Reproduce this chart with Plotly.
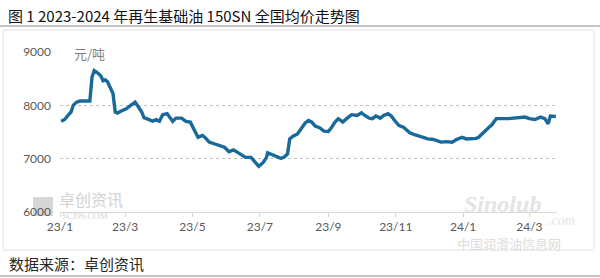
import plotly.graph_objects as go

dates = ["2023-01-02","2023-01-05","2023-01-09","2023-01-11","2023-01-13","2023-01-16","2023-01-19","2023-01-28",
"2023-01-30","2023-02-01","2023-02-04","2023-02-07","2023-02-09","2023-02-11","2023-02-13","2023-02-16","2023-02-18",
"2023-02-20","2023-02-22","2023-02-25","2023-03-02","2023-03-06","2023-03-10","2023-03-12","2023-03-16","2023-03-18",
"2023-03-22","2023-03-26","2023-03-29","2023-04-01","2023-04-04","2023-04-08","2023-04-11","2023-04-13","2023-04-16",
"2023-04-21","2023-04-25","2023-04-29","2023-05-02","2023-05-06","2023-05-10","2023-05-13","2023-05-16","2023-05-21",
"2023-05-26","2023-05-30","2023-06-03","2023-06-07","2023-06-13","2023-06-18","2023-06-23","2023-06-28","2023-06-30",
"2023-07-04","2023-07-07","2023-07-08","2023-07-12","2023-07-16","2023-07-20","2023-07-23","2023-07-26","2023-07-28",
"2023-07-31","2023-08-04","2023-08-08","2023-08-11","2023-08-14","2023-08-17","2023-08-20","2023-08-24","2023-08-28",
"2023-09-01","2023-09-04","2023-09-07","2023-09-10","2023-09-14","2023-09-18","2023-09-22","2023-09-27","2023-10-01",
"2023-10-04","2023-10-08","2023-10-11","2023-10-14","2023-10-18","2023-10-21","2023-10-25","2023-10-28","2023-10-31",
"2023-11-04","2023-11-08","2023-11-11","2023-11-14","2023-11-18","2023-11-23","2023-11-26","2023-11-30","2023-12-05",
"2023-12-08","2023-12-12","2023-12-17","2023-12-22","2023-12-26","2023-12-31","2024-01-04","2024-01-09","2024-01-13",
"2024-01-15","2024-01-18","2024-01-21","2024-01-24","2024-01-27","2024-01-30","2024-01-31","2024-02-11","2024-02-26",
"2024-03-01","2024-03-06","2024-03-11","2024-03-15","2024-03-18","2024-03-20","2024-03-25"]
prices = [7700,7730,7830,7875,8000,8060,8080,8080,
8530,8650,8610,8550,8460,8480,8440,8315,8220,
7875,7855,7890,7935,8000,8060,8000,7875,7770,
7730,7705,7730,7700,7825,7845,7760,7700,7760,
7760,7700,7685,7560,7400,7435,7385,7310,7280,
7245,7215,7130,7165,7090,7025,7025,6900,6855,
6930,7025,7110,7070,7045,7005,7030,7090,7370,
7420,7465,7590,7670,7715,7685,7610,7580,7515,
7510,7590,7685,7750,7685,7760,7825,7810,7860,
7810,7760,7750,7800,7760,7810,7845,7800,7715,
7620,7590,7530,7480,7450,7420,7400,7370,7360,
7340,7310,7320,7310,7360,7400,7370,7370,7380,
7400,7465,7530,7580,7635,7735,7750,7750,7780,
7750,7735,7780,7750,7655,7800,7790]

tick_dates = ["2023-01-01","2023-03-01","2023-05-01","2023-07-01","2023-09-01","2023-11-01","2024-01-01","2024-03-01"]
tick_labels = ["23/1","23/3","23/5","23/7","23/9","23/11","24/1","24/3"]
y_ticks = [6000, 7000, 8000, 9000]

title_text = "图 1 2023-2024 年再生基础油 150SN 全国均价走势图"
unit_text = "元/吨"
source_text = "数据来源：卓创资讯"

W, H = 600, 278
L, R, T, B = 60, 43, 52, 66
pw, ph = W - L - R, H - T - B

def px(x):
    return (x - L) / pw

def py(y):
    return (H - B - y) / ph

fig = go.Figure()
fig.add_trace(go.Scatter(x=dates, y=prices, mode="lines",
                         line=dict(color="#19699A", width=3.4), hoverinfo="skip"))

axis_font = dict(family="Lato, Open Sans, sans-serif", size=12, color="#595959")
fig.update_layout(
    width=W, height=H, margin=dict(l=L, r=R, t=T, b=B),
    paper_bgcolor="white", plot_bgcolor="white", showlegend=False,
    xaxis=dict(type="date", range=["2023-01-01", "2024-03-26"], tickvals=tick_dates, ticktext=tick_labels,
               tickfont=axis_font, showgrid=False, showline=True, linecolor="#d9d9d9", linewidth=1,
               ticks="outside", ticklen=4, tickcolor="#d9d9d9", zeroline=False, fixedrange=True),
    yaxis=dict(range=[6000, 9000], tickvals=y_ticks, tickfont=axis_font, showgrid=True,
               gridcolor="#c0c0c0", griddash="3px,3px", gridwidth=1, zeroline=False,
               ticks="", ticklabelstandoff=8, fixedrange=True),
)

cjk = "Noto Sans CJK SC"
# title
fig.add_annotation(text=title_text, xref="paper", yref="paper", x=px(6), y=py(15),
                   xanchor="left", yanchor="middle", showarrow=False,
                   font=dict(family=cjk, size=15, color="#111111"))
# unit
fig.add_annotation(text=unit_text, xref="paper", yref="paper", x=px(72), y=py(53),
                   xanchor="left", yanchor="middle", showarrow=False,
                   font=dict(family=cjk, size=13, color="#7f7f7f"))
# source
fig.add_annotation(text=source_text, xref="paper", yref="paper", x=px(7), y=py(263),
                   xanchor="left", yanchor="middle", showarrow=False,
                   font=dict(family=cjk, size=15, color="#262626"))

# watermarks
fig.add_shape(type="rect", xref="paper", yref="paper", x0=px(33), x1=px(53), y0=py(216), y1=py(197),
              fillcolor="#d6d6d6", line=dict(width=0), layer="below")
fig.add_annotation(text="卓创资讯", xref="paper", yref="paper", x=px(57), y=py(199),
                   xanchor="left", yanchor="middle", showarrow=False,
                   font=dict(family=cjk, size=16, color="#d2d2d2"))
fig.add_annotation(text="SCI99.COM", xref="paper", yref="paper", x=px(60), y=py(216),
                   xanchor="left", yanchor="middle", showarrow=False,
                   font=dict(family="Liberation Serif, serif", size=9, color="#d2d2d2"))
fig.add_annotation(text="<i><b>Sinolub</b></i>", xref="paper", yref="paper", x=px(462), y=py(204),
                   xanchor="left", yanchor="middle", showarrow=False,
                   font=dict(family="Liberation Serif, serif", size=24, color="#e4e4e4"))
fig.add_annotation(text="<i>.com</i>", xref="paper", yref="paper", x=px(546), y=py(220),
                   xanchor="left", yanchor="middle", showarrow=False,
                   font=dict(family="Liberation Serif, serif", size=14, color="#e4e4e4"))
fig.add_annotation(text="中国润滑油信息网", xref="paper", yref="paper", x=px(455), y=py(243),
                   xanchor="left", yanchor="middle", showarrow=False,
                   font=dict(family=cjk, size=13, color="#dcdcdc"))

# frame lines
fig.add_shape(type="line", xref="paper", yref="paper", x0=px(0), x1=px(600), y0=py(26), y1=py(26),
              line=dict(color="#8c8c8c", width=1.2))
fig.add_shape(type="rect", xref="paper", yref="paper", x0=px(3), x1=px(594), y0=py(30), y1=py(250),
              line=dict(color="#e2e2e2", width=1), layer="below")
fig.add_shape(type="line", xref="paper", yref="paper", x0=px(0), x1=px(600), y0=py(276), y1=py(276),
              line=dict(color="#8c8c8c", width=1.2))

fig.write_html("out.html")
